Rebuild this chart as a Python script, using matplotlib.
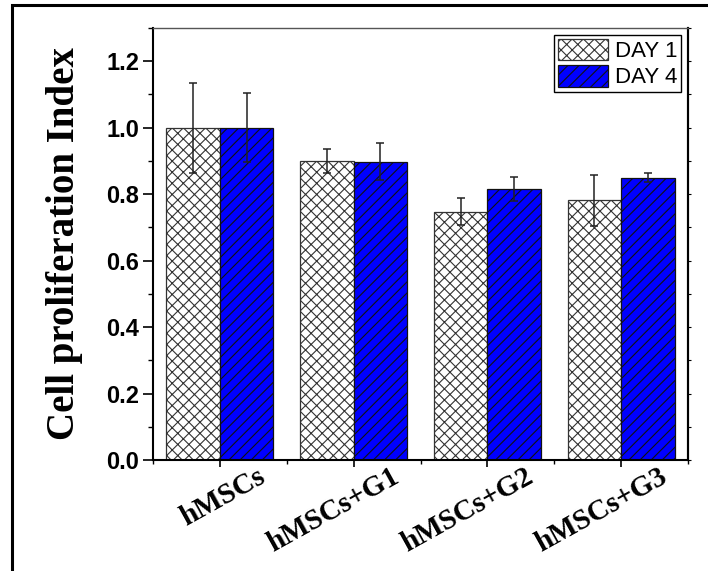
import matplotlib
matplotlib.use("Agg")
import matplotlib.pyplot as plt
import numpy as np
from matplotlib.patches import Rectangle
from matplotlib.transforms import ScaledTranslation
from matplotlib.ticker import MultipleLocator, FixedLocator, NullFormatter

# Data
groups = ["hMSCs", "hMSCs+G1", "hMSCs+G2", "hMSCs+G3"]
day1_mean = [1.00, 0.90, 0.747, 0.781]
day1_err = [0.135, 0.037, 0.040, 0.078]
day4_mean = [1.00, 0.898, 0.816, 0.850]
day4_err = [0.103, 0.055, 0.036, 0.014]
series_labels = ["DAY 1", "DAY 4"]
y_ticks = [0.0, 0.2, 0.4, 0.6, 0.8, 1.0, 1.2]

plt.rcParams["hatch.linewidth"] = 0.8

fig = plt.figure(figsize=(7.08, 5.71), dpi=100)
ax = fig.add_axes([153 / 708, 1 - 460 / 571, (688 - 153) / 708, (460 - 28) / 571])

x = np.arange(len(groups))
w = 0.4
err_kw = dict(ecolor="#222222", elinewidth=1.1, capsize=3, capthick=1.1)
ax.bar(x - w / 2, day1_mean, w, yerr=day1_err, color="white",
       edgecolor="#333333", linewidth=0.9, hatch="xxx",
       error_kw=err_kw, label=series_labels[0])
ax.bar(x + w / 2, day4_mean, w, yerr=day4_err, color="#0000ff",
       edgecolor="#111111", linewidth=0.9, hatch="///",
       error_kw=err_kw, label=series_labels[1])

ax.set_xlim(-0.5, 3.5)
ax.set_ylim(0, 1.3)

ax.set_yticks(y_ticks)
ax.set_yticklabels([f"{v:.1f}" for v in y_ticks], fontfamily="Liberation Sans",
                   fontweight="bold", fontsize=17)
ax.yaxis.set_minor_locator(MultipleLocator(0.1))
ax.tick_params(axis="y", which="major", direction="out", length=7, width=1.2, pad=3)
ax.tick_params(axis="y", which="minor", direction="out", length=3.5, width=1.0)

# small ticks on the right-hand spine
sec = ax.secondary_yaxis("right")
sec.yaxis.set_major_locator(MultipleLocator(0.1))
sec.yaxis.set_major_formatter(NullFormatter())
sec.tick_params(direction="out", length=2, width=0.8)
sec.spines["right"].set_linewidth(1.5)

ax.set_xticks(x)
ax.xaxis.set_minor_locator(FixedLocator(np.arange(-0.5, 4.0, 1.0)))
ax.set_xticklabels(groups, rotation=29, ha="right", va="top",
                   rotation_mode="anchor", fontfamily="Liberation Serif",
                   fontweight="bold", fontsize=21)
ax.tick_params(axis="x", which="major", direction="out", length=5, width=1.2)
ax.tick_params(axis="x", which="minor", direction="out", length=3, width=1.0)
shift = ScaledTranslation(0.37, 0.09, fig.dpi_scale_trans)
for lab in ax.get_xticklabels():
    lab.set_transform(lab.get_transform() + shift)

ax.set_ylabel("Cell proliferation Index", fontfamily="Liberation Serif",
              fontweight="bold", fontsize=28)
ax.yaxis.set_label_coords(-0.13, 0.5)

for side in ("left", "bottom", "right"):
    ax.spines[side].set_linewidth(1.5)
    ax.spines[side].set_color("black")
ax.spines["top"].set_linewidth(1.0)
ax.spines["top"].set_color("#555555")

leg = ax.legend(loc="upper right", prop={"family": "Liberation Sans", "size": 16},
                frameon=True, fancybox=False, edgecolor="black", framealpha=1,
                handlelength=2.25, handleheight=1.1, labelspacing=0.15,
                handletextpad=0.3, borderpad=0.18, borderaxespad=0.3)
leg.get_frame().set_linewidth(1.0)

# Outer frame around the figure
fig.patches.append(Rectangle((12 / 708, -0.2), 1.3, 1 - 5 / 571 + 0.2,
                             transform=fig.transFigure, fill=False,
                             edgecolor="black", linewidth=2.2))

fig.savefig("out.png", dpi=100)
